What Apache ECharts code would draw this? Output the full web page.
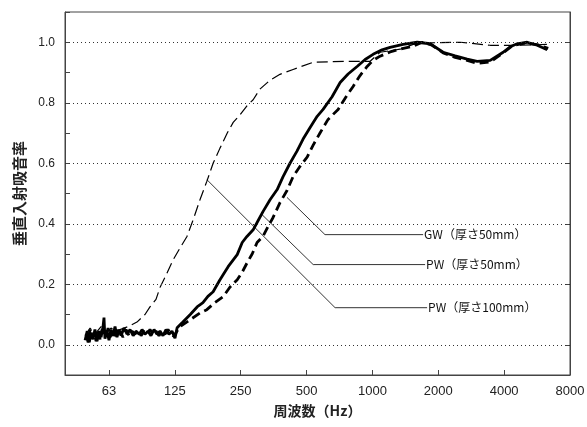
<!DOCTYPE html>
<html lang="ja">
<head>
<meta charset="UTF-8">
<title>垂直入射吸音率</title>
<script src="https://cdn.jsdelivr.net/npm/echarts@6/dist/echarts.min.js"></script>
<style>
  html, body { margin: 0; padding: 0; background: #fff; }
  #dv { width: 587px; height: 427px; }
</style>
</head>
<body>
<div id="dv"></div>
<script>
// octave band tick labels (Hz)
var tickLabels = ['63', '125', '250', '500', '1000', '2000', '4000', '8000'];
var gridLevels = [0, 0.2, 0.4, 0.6, 0.8, 1.0];

// GW 50mm
var freqGW = [48.6,49.7,50.8,51.7,52.8,53.9,55.1,56.3,57.5,58.7,59.3,59.9,61.2,62.5,63.8,65.2,66.6,68.0,69.4,70.9,
  73.2,75.6,78.0,80.6,83.1,85.9,88.5,91.3,94.2,97.2,100.4,103.6,106.9,110.3,113.9,117.5,121.3,125.2,128,
  136,147,158,168,177,187,201,219,241,254,267,285,300,316,341,367,390,420,452,482,
  519,559,595,654,712,774,851,926,1007,1107,1204,1381,1601,1836,2105,2388,2710,3011,3454,3959,
  4261,4589,5097,5664,6293];
var absGW = [0.015,0.045,0.008,0.04,0.018,0.05,0.012,0.045,0.025,0.06,0.09,0.02,0.045,0.015,0.05,0.03,0.06,0.025,0.05,0.03,
  0.055,0.035,0.05,0.03,0.045,0.035,0.05,0.035,0.045,0.03,0.05,0.035,0.045,0.03,0.05,0.035,0.045,0.022,0.056,
  0.075,0.10,0.125,0.139,0.16,0.175,0.215,0.258,0.298,0.338,0.358,0.38,0.41,0.44,0.48,0.513,0.555,0.60,0.64,0.68,
  0.718,0.755,0.778,0.82,0.867,0.895,0.92,0.943,0.96,0.975,0.983,0.993,1.0,0.995,0.967,0.955,0.944,0.937,0.94,0.967,
  0.985,0.995,1.0,0.99,0.975];

// PW 50mm
var freqPW50 = [49.1,50.2,51.2,52.3,53.4,54.6,55.7,56.9,58.1,60.6,61.9,63.2,64.5,65.9,67.3,68.7,70.2,72.4,74.8,77.2,
  79.7,82.2,84.8,87.6,90.3,93.2,96.2,99.3,102.5,105.8,109.2,112.7,116.3,120.0,123.9,129,
  132,147,163,175,191,208,223,241,254,267,282,297,316,333,351,378,407,434,467,503,
  536,576,627,697,758,816,878,946,1007,1084,1204,1338,1535,1688,1875,2105,2388,2710,3011,3454,
  3959,4398,4988,5664,6362];
var absPW50 = [0.035,0.008,0.05,0.02,0.04,0.012,0.045,0.018,0.05,0.03,0.055,0.025,0.04,0.02,0.05,0.035,0.045,0.025,0.05,0.03,
  0.045,0.035,0.05,0.03,0.045,0.035,0.05,0.035,0.045,0.03,0.045,0.035,0.05,0.035,0.028,0.05,
  0.06,0.083,0.105,0.116,0.14,0.159,0.19,0.215,0.24,0.27,0.30,0.338,0.358,0.39,0.42,0.47,0.51,0.556,0.59,0.62,
  0.66,0.70,0.745,0.778,0.82,0.854,0.89,0.92,0.94,0.954,0.968,0.977,0.987,1.0,0.99,0.965,0.95,0.94,0.93,0.935,
  0.965,0.99,0.997,0.992,0.98];

// PW 100mm
var freqPW100 = [48.6,51.2,53.9,57.5,60.6,63.8,67.3,70.2,73.2,76.4,83.9,91.3,96.2,102.5,107,113.9,122.6,132,142,151,
  163,175,187,201,217,231,248,267,285,306,341,378,434,536,766,976,1084,1338,1535,1836,
  2517,3454,4737,6362];
var absPW100 = [0.03,0.055,0.035,0.06,0.04,0.055,0.045,0.05,0.055,0.06,0.075,0.10,0.125,0.15,0.19,0.23,0.28,0.32,0.358,0.41,
  0.48,0.54,0.60,0.65,0.70,0.735,0.76,0.79,0.81,0.845,0.875,0.894,0.91,0.934,0.937,0.937,0.967,0.977,0.993,0.998,
  1.0,0.99,0.99,0.993];

// leader lines for the labels: [Hz, value]
var leaderGW = [[407, 0.487], [607, 0.364], [1705, 0.364]];
var leaderPW50 = [[313, 0.43], [536, 0.265], [1741, 0.265]];
var leaderPW100 = [[175, 0.546], [675, 0.1225], [1778, 0.1225]];

function oct(f) { return Math.log2(f / 62.5); }
function pts(fs, vs) { return fs.map(function (f, i) { return [oct(f), vs[i]]; }); }
function leader(arr) { return arr.map(function (p) { return [oct(p[0]), p[1]]; }); }

var octaves = tickLabels.map(function (t, i) { return i; });
var yTicks = [];
for (var k = -1; k <= 11; k++) yTicks.push(k / 10);

var myChart = echarts.init(document.getElementById('dv'));

function leaderSeries(data, text) {
  return {
    type: 'line',
    data: leader(data),
    showSymbol: false,
    silent: true,
    z: 1,
    lineStyle: { color: '#333', width: 1 },
    endLabel: {
      show: true,
      formatter: text,
      distance: 1,
      color: '#111',
      fontSize: 12,
      fontFamily: 'Noto Sans CJK JP'
    }
  };
}

var option = {
  animation: false,
  grid: {
    left: 65, right: 17, top: 12, bottom: 52,
    show: true, borderColor: '#444', borderWidth: 1,
    containLabel: false, outerBoundsMode: 'none'
  },
  xAxis: {
    type: 'value',
    min: -0.668,
    max: 7,
    name: '周波数（Hz）',
    nameLocation: 'middle',
    nameGap: 29,
    nameTextStyle: { fontSize: 14, fontWeight: 'bold', color: '#222', fontFamily: 'Noto Sans CJK JP' },
    axisLine: { show: true, onZero: false, lineStyle: { color: '#444' } },
    axisTick: { inside: true, length: 5, customValues: octaves, lineStyle: { color: '#444' } },
    axisLabel: {
      customValues: octaves,
      formatter: function (v) { return tickLabels[Math.round(v)]; },
      color: '#222', fontSize: 13, fontFamily: 'Liberation Sans', margin: 10
    },
    splitLine: { show: false }
  },
  yAxis: [{
    type: 'value',
    min: -0.1,
    max: 1.1,
    interval: 0.1,
    name: '垂直入射吸音率',
    nameLocation: 'middle',
    nameGap: 38,
    nameRotate: 90,
    nameTextStyle: { fontSize: 15, fontWeight: 'bold', color: '#222', fontFamily: 'Noto Sans CJK JP' },
    axisLine: { show: true, onZero: false, lineStyle: { color: '#444' } },
    axisTick: { inside: true, length: 5, customValues: yTicks, lineStyle: { color: '#444' } },
    axisLabel: {
      customValues: gridLevels,
      formatter: function (v) { return v.toFixed(1); },
      color: '#222', fontSize: 12, fontFamily: 'Liberation Sans', margin: 10
    },
    splitLine: { show: false }
  }, {
    type: 'value',
    position: 'right',
    min: -0.1,
    max: 1.1,
    interval: 0.1,
    axisLine: { show: true, onZero: false, lineStyle: { color: '#444' } },
    axisTick: { inside: true, length: 4, customValues: gridLevels, lineStyle: { color: '#444' } },
    axisLabel: { show: false },
    splitLine: { show: false }
  }],
  series: [{
    type: 'line',
    data: [],
    silent: true,
    markLine: {
      silent: true,
      symbol: 'none',
      label: { show: false },
      lineStyle: { color: '#333', type: [1, 3], width: 1 },
      data: gridLevels.map(function (v) { return { yAxis: v }; })
    }
  }, {
    name: 'GW（厚さ50mm）',
    type: 'line',
    data: pts(freqGW, absGW),
    showSymbol: false,
    z: 3,
    lineStyle: { color: '#000', width: 2.8 }
  }, {
    name: 'PW（厚さ50mm）',
    type: 'line',
    data: pts(freqPW50, absPW50),
    showSymbol: false,
    z: 3,
    lineStyle: { color: '#000', width: 2.8, type: [9, 5] }
  }, {
    name: 'PW（厚さ100mm）',
    type: 'line',
    data: pts(freqPW100, absPW100),
    showSymbol: false,
    z: 3,
    lineStyle: { color: '#000', width: 1.2, type: [11, 5] }
  },
    leaderSeries(leaderGW, 'GW（厚さ50mm）'),
    leaderSeries(leaderPW50, 'PW（厚さ50mm）'),
    leaderSeries(leaderPW100, 'PW（厚さ100mm）')
  ]
};
myChart.setOption(option);
</script>
</body>
</html>
